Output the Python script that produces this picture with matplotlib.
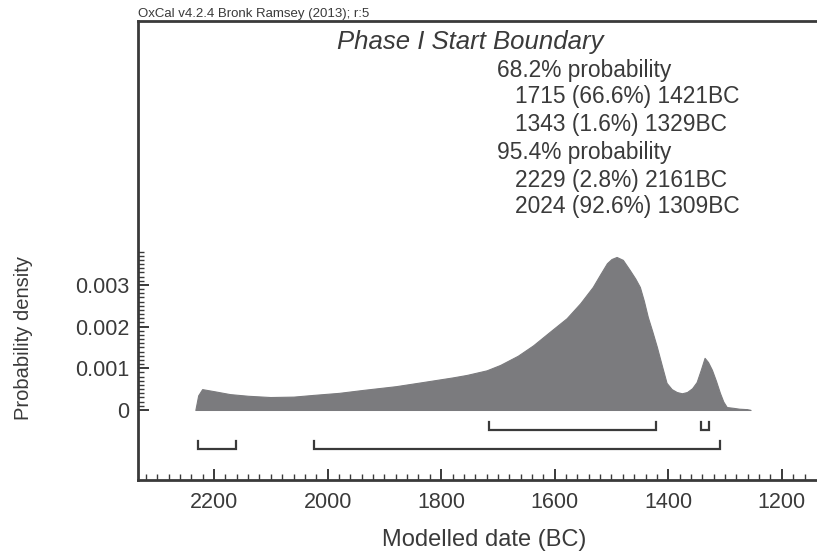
import numpy as np
import matplotlib
matplotlib.use('Agg')
import matplotlib.pyplot as plt

plt.rcParams['font.family'] = ['Liberation Sans', 'DejaVu Sans']

# probability distribution (years BC, density)
years = [2233, 2228, 2221, 2200, 2172, 2140, 2101, 2060, 2026, 1980, 1938, 1880,
         1832, 1780, 1755, 1720, 1696, 1665, 1638, 1610, 1579, 1555, 1533, 1520,
         1508, 1500, 1491, 1480, 1468, 1458, 1450, 1443, 1436, 1428, 1420, 1411,
         1403, 1394, 1385, 1376, 1367, 1358, 1350, 1343, 1336, 1330, 1323, 1316,
         1309, 1303, 1297, 1285, 1275, 1262, 1255]
density = [0, 0.35, 0.50, 0.45, 0.38, 0.34, 0.31, 0.32, 0.36, 0.41, 0.48, 0.57,
           0.67, 0.78, 0.84, 0.95, 1.08, 1.30, 1.55, 1.86, 2.20, 2.56, 2.95, 3.25,
           3.52, 3.62, 3.67, 3.60, 3.36, 3.15, 2.95, 2.62, 2.23, 1.88, 1.51, 1.05,
           0.65, 0.50, 0.43, 0.40, 0.43, 0.52, 0.67, 0.95, 1.25, 1.15, 0.96, 0.70,
           0.41, 0.20, 0.07, 0.05, 0.03, 0.02, 0]
density = [d * 1e-3 for d in density]

# highest probability ranges
ranges_68 = [(1715, 1421), (1343, 1329)]
ranges_95 = [(2229, 2161), (2024, 1309)]

xticks = [2200, 2000, 1800, 1600, 1400, 1200]
yticks = [0, 0.001, 0.002, 0.003]
ytick_labels = ['0', '0.001', '0.002', '0.003']

title = 'Phase I Start Boundary'
summary = ['68.2% probability',
           '1715 (66.6%) 1421BC',
           '1343 (1.6%) 1329BC',
           '95.4% probability',
           '2229 (2.8%) 2161BC',
           '2024 (92.6%) 1309BC']
header = 'OxCal v4.2.4 Bronk Ramsey (2013); r:5'

dark = '#3a3a3a'
fill_col = '#7b7b7e'

fig = plt.figure(figsize=(8.17, 5.54), dpi=100)
ax = fig.add_axes([138/817, 74/554, (817-138)/817, (480-21)/554])

ax.fill_between(years, density, 0, color=fill_col, lw=0.8, edgecolor=fill_col)

# range brackets
def bracket(x0, x1, y, h):
	ax.plot([x0, x0, x1, x1], [y + h, y, y, y + h], color=dark, lw=1.6,
	        solid_joinstyle='miter')

for a, b in ranges_68:
	bracket(a, b, -0.00048, 0.00019)
for a, b in ranges_95:
	bracket(a, b, -0.00094, 0.00019)

ax.set_xlim(2334, 1138)
ax.set_ylim(-0.00168, 0.00933)

ax.set_xticks(xticks)
ax.set_xticks(np.arange(1160, 2340, 20), minor=True)
ax.set_xticklabels([str(t) for t in xticks])
ax.set_yticks(yticks)
ax.set_yticks(np.arange(0, 0.00385, 0.0001), minor=True)
ax.set_yticklabels(ytick_labels)

ax.tick_params(which='major', direction='in', length=8, width=1.4, color=dark,
               labelsize=15.5, labelcolor=dark, pad=6)
ax.tick_params(axis='x', which='major', pad=9)
ax.tick_params(which='minor', direction='in', length=4, width=1.0, color=dark)

for s in ['left', 'bottom', 'top']:
	ax.spines[s].set_color(dark)
	ax.spines[s].set_linewidth(2)
ax.spines['right'].set_visible(False)

fig.text(138/817, 1 - 20/554, header, fontsize=9.5, color=dark,
         ha='left', va='bottom')
fig.text(470/817, 1 - 42/554, title, fontsize=18.5, style='italic', color=dark,
         ha='center', va='center')

line_y = [70, 97, 124, 152, 180, 207]
for txt, yy in zip(summary, line_y):
	xx = 497 if 'probability' in txt else 515
	fig.text(xx/817, 1 - yy/554, txt, fontsize=16.4, color=dark,
	         ha='left', va='center')

fig.text(484/817, 1 - 540/554, 'Modelled date (BC)', fontsize=17, color=dark,
         ha='center', va='center')
fig.text(24/817, 1 - 338/554, 'Probability density', fontsize=14.5, color=dark,
         ha='center', va='center', rotation=90)

fig.savefig('out.png', dpi=100)
